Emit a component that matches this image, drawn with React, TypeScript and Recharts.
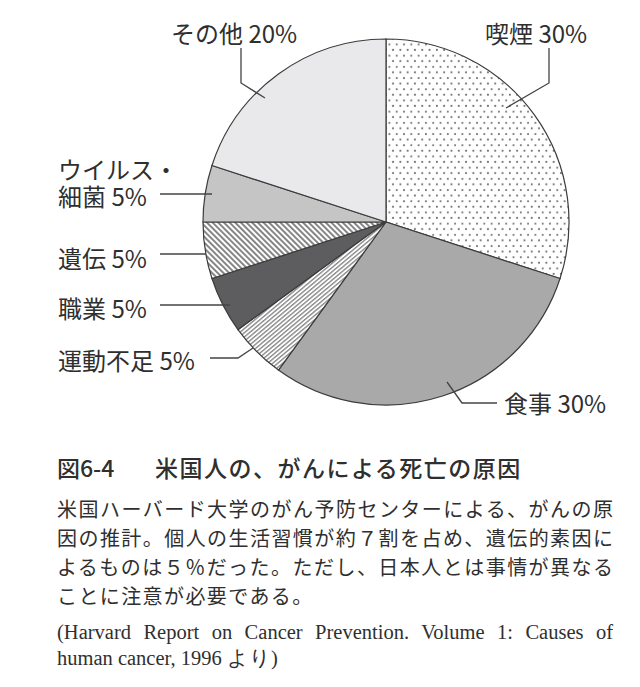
import { PieChart, Pie, Cell } from 'recharts';

const causes = ['喫煙', '食事', '運動不足', '職業', '遺伝', 'ウイルス・細菌', 'その他'];
const shares = [30, 30, 5, 5, 5, 5, 20];

const FILLS = ['url(#dots)', '#a9a9a9', 'url(#fineStripes)', '#5d5d5f', 'url(#stripes)', '#c5c5c5', '#e9e9ec'];

// label placement relative to pie center: text start, text center y (last line), leader polyline
const LABEL_LAYOUT = [
  { x: 99, y: -190, line: [[163, -174], [163, -139], [120, -114]] },
  { x: 118, y: 180, line: [[111, 181], [76, 181], [61, 160]] },
  { x: -328, y: 137, line: [[-176, 136], [-148, 136], [-133, 126]] },
  { x: -328, y: 85, line: [[-226, 83], [-156, 83]] },
  { x: -328, y: 35, line: [[-226, 32], [-180, 32]] },
  { x: -328, y: -27, line: [[-226, -28], [-174, -28]], breakAfter: 5 },
  { x: -215, y: -190, line: [[-145, -174], [-145, -139], [-121, -124]] },
];

const data = causes.map((name, i) => ({ name, value: shares[i] }));

const TEXT_COLOR = '#2f2f2f';
const LINE_COLOR = '#444';
const JP_FONT = '"Noto Sans CJK JP", "Noto Sans", sans-serif';
const LABEL_LINE_GAP = 27;

const renderLabel = (props: any) => {
  const { cx, cy, index, name, value } = props;
  const l = LABEL_LAYOUT[index];
  const text = `${name} ${value}%`;
  const lines = l.breakAfter ? [text.slice(0, l.breakAfter), text.slice(l.breakAfter)] : [text];
  const pts = l.line.map(([dx, dy]) => `${cx + dx},${cy + dy}`).join(' ');
  const firstY = cy + l.y - (lines.length - 1) * LABEL_LINE_GAP;
  return (
    <g key={`label-${index}`}>
      <polyline points={pts} fill="none" stroke={LINE_COLOR} strokeWidth={1.3} />
      <text
        x={cx + l.x}
        y={firstY}
        dominantBaseline="central"
        fill={TEXT_COLOR}
        fontSize={24}
        fontFamily={JP_FONT}
      >
        {lines.map((t, j) => (
          <tspan key={j} x={cx + l.x} dy={j === 0 ? 0 : LABEL_LINE_GAP}>
            {t}
          </tspan>
        ))}
      </text>
    </g>
  );
};

export default function App() {
  return (
    <div style={{ position: 'relative', width: 624, height: 679, background: '#fff', color: TEXT_COLOR }}>
      <PieChart width={624} height={440} margin={{ top: 0, right: 0, bottom: 0, left: 0 }}>
        <defs>
          <pattern id="dots" patternUnits="userSpaceOnUse" width={7.3} height={11.2}>
            <rect width={7.3} height={11.2} fill="#fff" />
            <circle cx={1.8} cy={2.8} r={1.05} fill="#6e6e6e" />
            <circle cx={5.45} cy={8.4} r={1.05} fill="#6e6e6e" />
          </pattern>
          <pattern id="stripes" patternUnits="userSpaceOnUse" width={4} height={4} patternTransform="rotate(-45)">
            <rect width={4} height={4} fill="#fff" />
            <rect width={1.9} height={4} fill="#808080" />
          </pattern>
          <pattern id="fineStripes" patternUnits="userSpaceOnUse" width={3.2} height={4} patternTransform="rotate(50)">
            <rect width={3.2} height={4} fill="#fff" />
            <rect width={1.4} height={4} fill="#8a8a8a" />
          </pattern>
        </defs>
        <Pie
          data={data}
          dataKey="value"
          nameKey="name"
          cx={378}
          cy={214}
          outerRadius={183}
          startAngle={90}
          endAngle={-270}
          stroke="#3c3c3c"
          strokeWidth={1.2}
          label={renderLabel}
          labelLine={false}
          isAnimationActive={false}
        >
          {data.map((_, i) => (
            <Cell key={`cell-${i}`} fill={FILLS[i]} />
          ))}
        </Pie>
      </PieChart>

      <div style={{ position: 'absolute', left: 49, top: 447, height: 24, lineHeight: '24px', fontSize: 23, fontFamily: JP_FONT, fontWeight: 500, whiteSpace: 'nowrap' }}>
        図6-4
      </div>
      <div style={{ position: 'absolute', left: 147, top: 447, height: 24, lineHeight: '24px', fontSize: 23, fontFamily: JP_FONT, fontWeight: 500, letterSpacing: 1.5, whiteSpace: 'nowrap' }}>
        米国人の、がんによる死亡の原因
      </div>

      <div style={{ position: 'absolute', left: 49, top: 486, width: 556, fontSize: 20, lineHeight: '29px', fontFamily: JP_FONT }}>
        <div style={{ textAlignLast: 'justify', textAlign: 'justify', whiteSpace: 'nowrap' }}>米国ハーバード大学のがん予防センターによる、がんの原</div>
        <div style={{ textAlignLast: 'justify', textAlign: 'justify' }}>因の推計。個人の生活習慣が約７割を占め、遺伝的素因に</div>
        <div style={{ textAlignLast: 'justify', textAlign: 'justify' }}>よるものは５％だった。ただし、日本人とは事情が異なる</div>
        <div style={{ letterSpacing: 1.4 }}>ことに注意が必要である。</div>
      </div>

      <div style={{ position: 'absolute', left: 49, top: 611, width: 556, fontSize: 20.5, lineHeight: '26px', fontFamily: '"Liberation Serif", "Times New Roman", serif' }}>
        <div style={{ textAlignLast: 'justify', textAlign: 'justify', whiteSpace: 'nowrap' }}>(Harvard Report on Cancer Prevention. Volume 1: Causes of</div>
        <div>human cancer, 1996 より)</div>
      </div>
    </div>
  );
}
